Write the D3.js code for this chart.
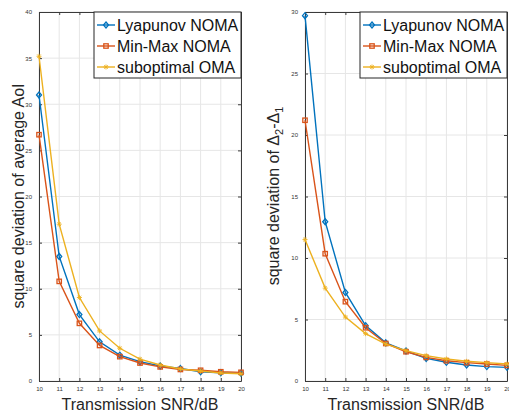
<!DOCTYPE html>
<html>
<head>
<meta charset="utf-8">
<script src="https://cdn.jsdelivr.net/npm/d3@7"></script>
<style>
  body { margin: 0; background: #fff; }
  svg { display: block; font-family: "Liberation Sans", Arial, sans-serif; }
</style>
</head>
<body>
<div id="chart"></div>
<script>
// x values shared by both panels
const snr = [10, 11, 12, 13, 14, 15, 16, 17, 18, 19, 20];

// left panel: square deviation of average AoI
const aoiLyapunov = [31.0, 13.5, 7.2, 4.25, 2.8, 2.1, 1.63, 1.35, 1.0, 0.9, 0.83];
const aoiMinMax   = [26.7, 10.8, 6.25, 3.85, 2.64, 1.95, 1.53, 1.25, 1.16, 1.0, 0.94];
const aoiOma      = [35.2, 17.0, 9.05, 5.43, 3.55, 2.37, 1.74, 1.3, 1.08, 0.87, 0.78];

// right panel: square deviation of Delta2 - Delta1
const deltaLyapunov = [29.7, 12.95, 7.2, 4.5, 3.1, 2.44, 1.84, 1.52, 1.3, 1.17, 1.11];
const deltaMinMax   = [21.2, 10.35, 6.45, 4.33, 3.05, 2.38, 1.92, 1.65, 1.49, 1.38, 1.27];
const deltaOma      = [11.5, 7.55, 5.2, 3.85, 3.0, 2.47, 2.06, 1.79, 1.6, 1.49, 1.38];

const seriesNames = ["Lyapunov NOMA", "Min-Max NOMA", "suboptimal OMA"];
const xTicks = snr;
const aoiTicks = [0, 5, 10, 15, 20, 25, 30, 35, 40];
const deltaTicks = [0, 5, 10, 15, 20, 25, 30];

const colors = ["#0072BD", "#D95319", "#EDB120"];
const markers = ["diamond", "square", "star"];

const W = 509, H = 416;
const svg = d3.select("#chart").append("svg").attr("width", W).attr("height", H);

function drawMarker(g, type, x, y, color){
  if(type === "diamond"){
    g.append("path").attr("d", `M${x},${y-3}L${x+2.5},${y}L${x},${y+3}L${x-2.5},${y}Z`)
      .attr("fill", "none").attr("stroke", color).attr("stroke-width", 1.3);
  } else if(type === "square"){
    g.append("rect").attr("x", x-2.2).attr("y", y-2.2).attr("width", 4.4).attr("height", 4.4)
      .attr("fill", "none").attr("stroke", color).attr("stroke-width", 1.3);
  } else {
    g.append("path").attr("d", `M${x-2.5},${y}L${x+2.5},${y}M${x},${y-2.5}L${x},${y+2.5}M${x-1.8},${y-1.8}L${x+1.8},${y+1.8}M${x-1.8},${y+1.8}L${x+1.8},${y-1.8}`)
      .attr("stroke", color).attr("stroke-width", 0.9);
  }
}

function drawPanel(opts){
  const {left, right, top, bottom, yMax, yTicks, series, legendX} = opts;
  const x = d3.scaleLinear().domain([10, 20]).range([left, right]);
  const y = d3.scaleLinear().domain([0, yMax]).range([bottom, top]);
  const g = svg.append("g");

  // grid
  g.append("g").selectAll("line.vx").data(xTicks).join("line")
    .attr("x1", d => x(d)).attr("x2", d => x(d)).attr("y1", top).attr("y2", bottom)
    .attr("stroke", "#e6e6e6").attr("stroke-width", 1);
  g.append("g").selectAll("line.hy").data(yTicks).join("line")
    .attr("x1", left).attr("x2", right).attr("y1", d => y(d)).attr("y2", d => y(d))
    .attr("stroke", "#e6e6e6").attr("stroke-width", 1);

  // axes (inward ticks on all sides)
  const axStyle = a => {
    a.select(".domain").attr("stroke", "#3a3a3a");
    a.selectAll(".tick line").attr("stroke", "#3a3a3a");
    a.selectAll(".tick text").attr("fill", "#333").attr("font-size", 6);
  };
  g.append("g").attr("transform", `translate(0,${bottom})`)
    .call(d3.axisBottom(x).tickValues(xTicks).tickSizeInner(-3).tickSizeOuter(0).tickPadding(6))
    .call(axStyle);
  g.append("g").attr("transform", `translate(${left},0)`)
    .call(d3.axisLeft(y).tickValues(yTicks).tickSizeInner(-3).tickSizeOuter(0).tickPadding(7))
    .call(axStyle);
  g.append("g").attr("transform", `translate(0,${top})`)
    .call(d3.axisTop(x).tickValues(xTicks).tickSizeInner(-3).tickSizeOuter(0).tickFormat(""))
    .call(axStyle);
  g.append("g").attr("transform", `translate(${right},0)`)
    .call(d3.axisRight(y).tickValues(yTicks).tickSizeInner(-3).tickSizeOuter(0).tickFormat(""))
    .call(axStyle);

  // lines + markers
  const line = d3.line().x((d, i) => x(snr[i])).y(d => y(d));
  series.forEach((vals, k) => {
    g.append("path").datum(vals).attr("d", line)
      .attr("fill", "none").attr("stroke", colors[k]).attr("stroke-width", 1.4);
    const mg = g.append("g");
    vals.forEach((v, i) => drawMarker(mg, markers[k], x(snr[i]), y(v), colors[k]));
  });

  // legend
  const lg = g.append("g");
  lg.append("rect").attr("x", legendX).attr("y", top).attr("width", right - legendX).attr("height", 66)
    .attr("fill", "#fff").attr("stroke", "#262626").attr("stroke-width", 1);
  const rows = [25, 46, 67];
  seriesNames.forEach((name, k) => {
    const ly = rows[k];
    lg.append("line").attr("x1", legendX + 3).attr("x2", legendX + 21).attr("y1", ly).attr("y2", ly)
      .attr("stroke", colors[k]).attr("stroke-width", 1.4);
    drawMarker(lg, markers[k], legendX + 12, ly, colors[k]);
    lg.append("text").attr("x", legendX + 23).attr("y", ly).attr("dy", "0.35em")
      .attr("font-size", 16).attr("fill", "#111").text(name);
  });

  // x title
  g.append("text").attr("x", (left + right) / 2).attr("y", 410)
    .attr("text-anchor", "middle").attr("font-size", 16).attr("fill", "#262626")
    .text("Transmission SNR/dB");
  return g;
}

const g1 = drawPanel({left: 39, right: 241, top: 12, bottom: 381, yMax: 40, yTicks: aoiTicks,
  series: [aoiLyapunov, aoiMinMax, aoiOma], legendX: 94});
g1.append("text").attr("transform", `translate(24,196) rotate(-90)`)
  .attr("text-anchor", "middle").attr("font-size", 16).attr("fill", "#262626")
  .text("square deviation of average AoI");

const g2 = drawPanel({left: 305, right: 507, top: 12, bottom: 381, yMax: 30, yTicks: deltaTicks,
  series: [deltaLyapunov, deltaMinMax, deltaOma], legendX: 360});
const t2 = g2.append("text").attr("transform", `translate(279,196) rotate(-90)`)
  .attr("text-anchor", "middle").attr("font-size", 16).attr("fill", "#262626");
t2.append("tspan").text("square deviation of \u0394");
t2.append("tspan").attr("font-size", 11).attr("dy", 4).text("2");
t2.append("tspan").attr("dy", -4).text("-\u0394");
t2.append("tspan").attr("font-size", 11).attr("dy", 4).text("1");
</script>
</body>
</html>
